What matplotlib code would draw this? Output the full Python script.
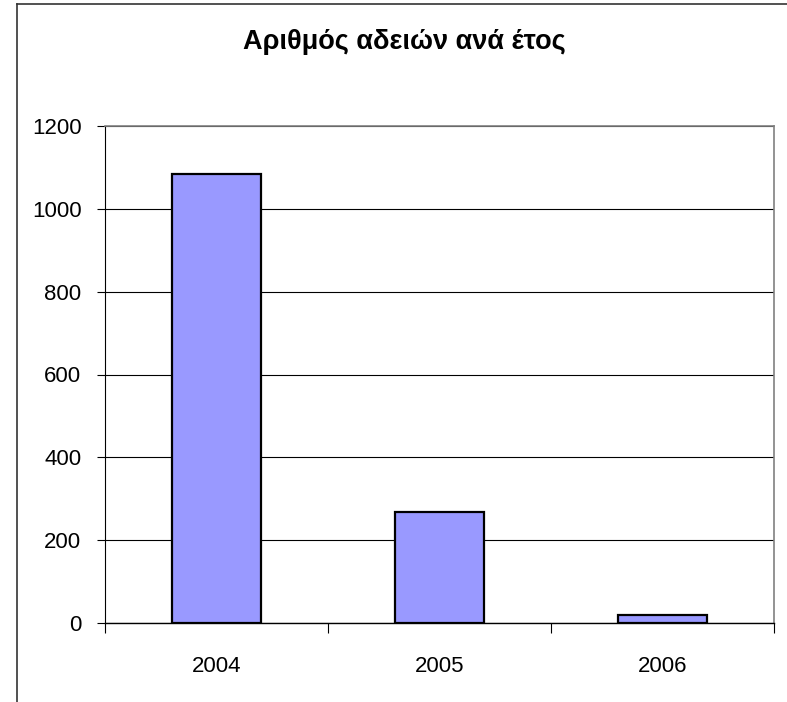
import matplotlib
matplotlib.use("Agg")
import matplotlib.pyplot as plt
from matplotlib.lines import Line2D

plt.rcParams['font.family'] = ['Liberation Sans', 'DejaVu Sans']

categories = ["2004", "2005", "2006"]
values = [1083, 267, 20]
yticks = [0, 200, 400, 600, 800, 1000, 1200]
title = "Αριθμός αδειών ανά έτος"

W, H = 787, 702
fig = plt.figure(figsize=(W / 100, H / 100), dpi=100)
ax = fig.add_axes([105 / W, 1 - 623 / H, (774 - 105) / W, (623 - 126) / H])

x = list(range(len(categories)))
ax.bar(x, values, width=0.4, color="#9999FF", edgecolor="black", linewidth=1.6, zorder=3)

ax.set_xlim(-0.5, len(categories) - 0.5)
ax.set_ylim(0, 1200)
ax.set_yticks(yticks)
ax.set_yticklabels([str(t) for t in yticks], fontsize=16)
ax.yaxis.grid(True, color="black", linewidth=0.8, zorder=0)
ax.set_axisbelow(True)

ax.set_xticks(x)
ax.set_xticklabels(categories, fontsize=16)
ax.tick_params(axis='x', which='major', length=0, pad=24)
ax.set_xticks([i - 0.5 for i in range(len(categories) + 1)], minor=True)
ax.tick_params(axis='x', which='minor', length=7, width=0.8, direction='out', color='black')
ax.tick_params(axis='y', length=6, width=0.8, direction='out', pad=11, color='black')

ax.spines['left'].set_color('black')
ax.spines['left'].set_linewidth(0.8)
ax.spines['bottom'].set_color('black')
ax.spines['bottom'].set_linewidth(1.0)
ax.spines['top'].set_color('#808080')
ax.spines['top'].set_linewidth(1.2)
ax.spines['right'].set_color('#808080')
ax.spines['right'].set_linewidth(1.2)

fig.text(404 / W, 1 - 42 / H, title, ha='center', va='center', fontsize=19.5, fontweight='bold')

# chart frame (top and left edges visible)
fig.add_artist(Line2D([17 / W, 1.0], [1 - 4 / H, 1 - 4 / H], transform=fig.transFigure, color='#333333', linewidth=1.2))
fig.add_artist(Line2D([17 / W, 17 / W], [0.0, 1 - 4 / H], transform=fig.transFigure, color='#333333', linewidth=1.2))

fig.savefig("out.png", dpi=100)
